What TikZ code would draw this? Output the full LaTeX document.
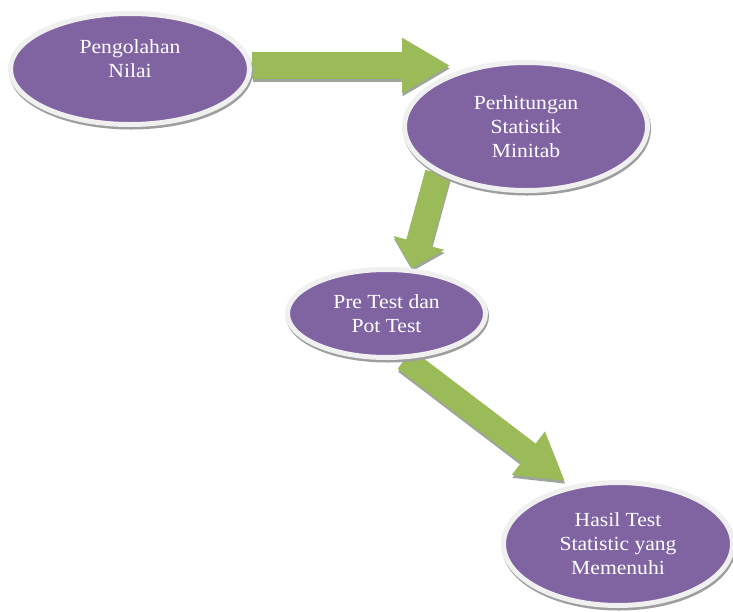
\documentclass[tikz,border=0pt]{standalone}
\usepackage{fontspec}
\setmainfont{Liberation Serif}[FakeStretch=1.08]
\usetikzlibrary{arrows.meta,shapes.geometric,backgrounds}
\pgfdeclarelayer{arrowlayer}
\pgfsetlayers{background,arrowlayer,main}
\definecolor{purp}{HTML}{8064A2}
\definecolor{grn}{HTML}{9BBB59}
\definecolor{ashadow}{HTML}{9EA69A}
\tikzset{
  oval/.style={ellipse, fill=purp, draw=black!6, line width=5pt, text=white,
    align=center, font=\fontsize{20}{24}\selectfont, inner sep=0pt,
    preaction={fill=none, draw=black!38, line width=5pt,
      transform canvas={xshift=1pt,yshift=-2.5pt}}},
  blockarrow/.style n args={3}{draw=grn, line width=#1,
    -{Triangle[width=#2,length=#3]},
    preaction={draw=ashadow, line width=#1, -{Triangle[width=#2,length=#3]},
      transform canvas={xshift=0.5pt,yshift=-3pt}}}
}
\begin{document}
\begin{tikzpicture}[x=1pt,y=-1pt]
\begin{pgfonlayer}{background}
\fill[white] (0,0) rectangle (733,611);
\end{pgfonlayer}
\useasboundingbox (0,0) rectangle (733,611);

\node[oval, minimum width=239pt, minimum height=111pt] (n1) at (130,69) {Pengolahan\\Nilai\\[-4pt]\mbox{}};
\node[oval, minimum width=243pt, minimum height=128pt] (n2) at (526,126.5) {Perhitungan\\Statistik\\Minitab};
\node[oval, minimum width=198pt, minimum height=88pt] (n3) at (386.5,313.5) {Pre Test dan\\Pot Test};
\node[oval, minimum width=229pt, minimum height=123pt] (n4) at (618,544) {Hasil Test\\Statistic yang\\Memenuhi};

\begin{pgfonlayer}{arrowlayer}
  \coordinate (t1) at (450,65.5);
  \draw[blockarrow={27pt}{52pt}{48pt}] (n1.east |- t1) -- (t1);
  \coordinate (t2) at (412,268);
  \draw[blockarrow={26pt}{51pt}{26pt}] (n2.208) -- (t2);
  \coordinate (t3) at (565,481);
  \draw[blockarrow={24pt}{51pt}{46pt}] (n3.292) -- (t3);
\end{pgfonlayer}
\end{tikzpicture}
\end{document}
